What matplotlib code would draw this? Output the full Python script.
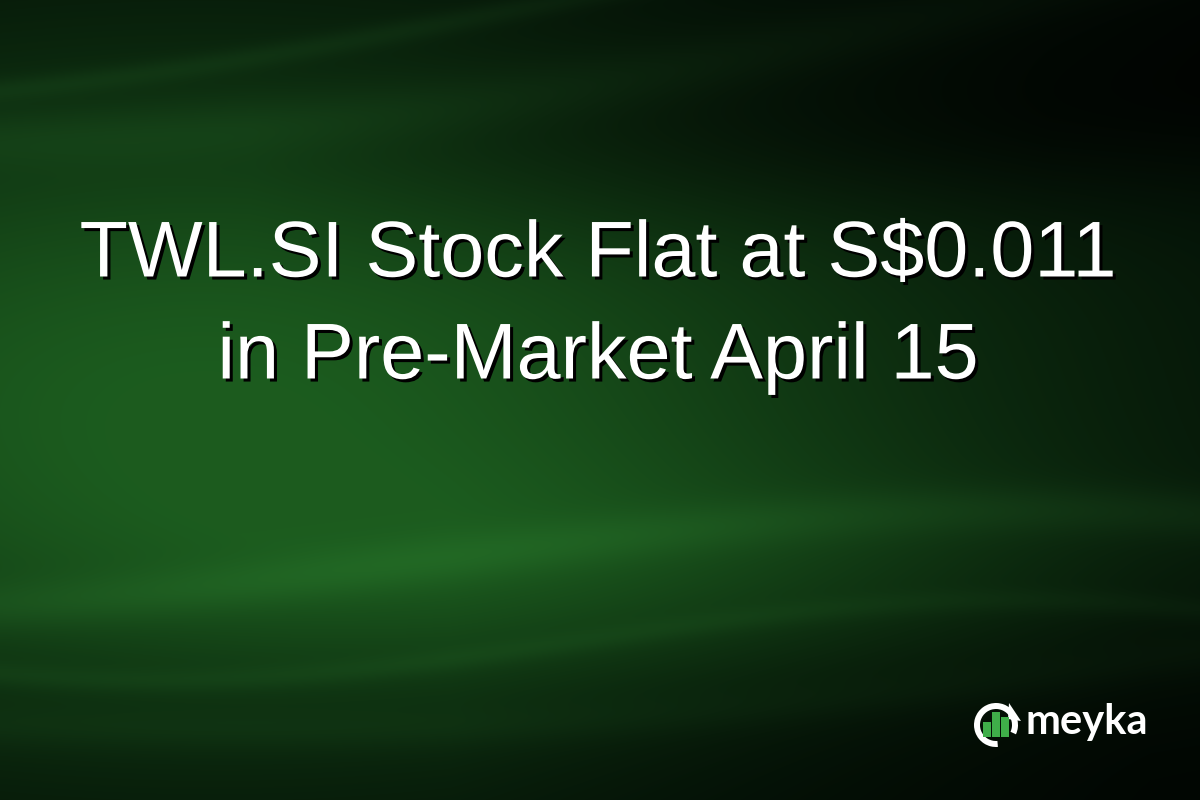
import matplotlib
matplotlib.use("Agg")
import matplotlib.pyplot as plt
import matplotlib.patheffects as pe
from matplotlib.patches import Wedge, Rectangle, Polygon
import numpy as np

title_lines = ["TWL.SI Stock Flat at S$0.011", "in Pre-Market April 15"]
brand = "meyka"
logo_bars = [15, 25, 20]   # bar heights (px) inside the logo ring

W, H = 1200, 800
fig = plt.figure(figsize=(12, 8), dpi=100)
ax = fig.add_axes([0, 0, 1, 1])
ax.set_xlim(0, W)
ax.set_ylim(H, 0)
ax.axis("off")

# background: dark green glow, brighter on the left middle
yy, xx = np.mgrid[0:H, 0:W]
glow = np.exp(-(((xx - 200) / 750.0) ** 2 + ((yy - 400) / 330.0) ** 2))
glow2 = np.exp(-(((xx - 650) / 550.0) ** 2 + ((yy - 570) / 110.0) ** 2)) * 0.3
g = np.clip(glow + glow2, 0, 1)
dark = np.array([0.01, 0.05, 0.02])
light = np.array([0.11, 0.36, 0.12])
img = dark + (light - dark) * g[..., None]


def wave_band(y0, amp, freq, phase, width, strength, tilt=0.0):
    yc = y0 + amp * np.sin(xx / W * freq * np.pi + phase) + tilt * xx
    return strength * np.exp(-((yy - yc) / width) ** 2)


bands = (wave_band(120, 40, 1.0, 0.5, 30, 0.05, tilt=-0.12)
         + wave_band(60, 30, 1.2, 1.5, 12, 0.05, tilt=-0.10)
         + wave_band(560, 50, 1.0, 2.0, 25, 0.06)
         + wave_band(640, 40, 1.4, 1.0, 12, 0.04)
         + wave_band(720, 30, 1.0, 0.2, 20, 0.03, tilt=-0.05))
img = img + bands[..., None] * np.array([0.4, 0.9, 0.4])
# darker sweeps: upper band and bottom-right
dark_top = (np.exp(-((yy - (170 - 0.05 * xx)) / 90.0) ** 2)
            * np.clip((xx - 250) / 800.0, 0, 1) * 0.55)
dark_top2 = np.exp(-((yy + 20) / 120.0) ** 2) * np.clip((xx - 400) / 800.0, 0, 1) * 0.5
dark_br = np.exp(-((yy - 800) / 200.0) ** 2) * np.clip((xx - 450) / 700.0, 0, 1) * 0.6
img = img * (1 - np.clip(dark_top + dark_top2 + dark_br, 0, 0.9)[..., None])
ax.imshow(np.clip(img, 0, 1), extent=[0, W, H, 0], aspect="auto", zorder=0)

# title
shadow = [pe.withSimplePatchShadow(offset=(2.2, -2.2), shadow_rgbFace="black", alpha=1.0)]
for i, line in enumerate(title_lines):
    ax.text(598, 256 + i * 102, line, ha="center", va="center", color="white",
            fontsize=57, family="Liberation Sans", zorder=5, path_effects=shadow)

# logo: open ring with arrow + green bars
cx, cy, r = 996, 725, 22
ax.add_patch(Wedge((cx, cy), r, 85, 360 + 25, width=6, facecolor="white", zorder=6))
ax.add_patch(Polygon([[cx + 13, cy - 22], [cx + 25, cy - 4], [cx + 12, cy - 6]],
                     closed=True, facecolor="white", zorder=6))
bw = 8
for k, h in enumerate(logo_bars):
    x0 = cx - 13 + k * (bw + 1)
    ax.add_patch(Rectangle((x0, cy + 12 - h), bw, h, facecolor="#3fae49", zorder=7))
ax.text(1026, 722, brand, ha="left", va="center", color="white", fontsize=30,
        fontweight="bold", family="Lato", zorder=6)

fig.savefig("out.png", dpi=100)
